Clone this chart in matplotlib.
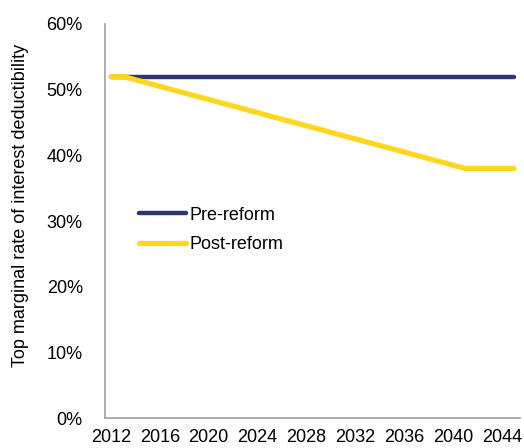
import matplotlib.pyplot as plt

plt.rcParams['font.family'] = ['Liberation Sans', 'DejaVu Sans']

years = list(range(2012, 2046))
pre_reform = [52.0] * 34
post_reform = [52.0, 52.0, 51.5, 51.0, 50.5, 50.0, 49.5, 49.0, 48.5, 48.0,
               47.5, 47.0, 46.5, 46.0, 45.5, 45.0, 44.5, 44.0, 43.5, 43.0,
               42.5, 42.0, 41.5, 41.0, 40.5, 40.0, 39.5, 39.0, 38.5, 38.0,
               38.0, 38.0, 38.0, 38.0]
xtick_years = [2012, 2016, 2020, 2024, 2028, 2032, 2036, 2040, 2044]
ytick_vals = [0, 10, 20, 30, 40, 50, 60]

fs = 13
fig = plt.figure(figsize=(5.24, 4.48), dpi=100)
ax = fig.add_axes([105 / 524, 30 / 448, 415 / 524, 394 / 448])

ax.plot(years, pre_reform, color='#2E3670', lw=3.2, solid_capstyle='round', label='Pre-reform')
ax.plot(years, post_reform, color='#FFD620', lw=3.8, solid_capstyle='round', label='Post-reform')

ax.set_xlim(2011.5, 2045.5)
ax.set_ylim(0, 60)
ax.set_xticks(xtick_years)
ax.set_xticklabels([str(y) for y in xtick_years], fontsize=fs)
ax.set_yticks(ytick_vals)
ax.set_yticklabels(['%d%%' % v for v in ytick_vals], fontsize=fs)
ax.tick_params(axis='x', length=0, pad=8)
ax.tick_params(axis='y', length=0, pad=16)
ax.set_ylabel('Top marginal rate of interest deductibility', fontsize=fs)
ax.yaxis.set_label_coords(-0.182, 0.54)

for s in ['top', 'right']:
    ax.spines[s].set_visible(False)
for s in ['left', 'bottom']:
    ax.spines[s].set_color('#A0A0A0')
    ax.spines[s].set_linewidth(1.2)

ax.legend(loc='upper left', bbox_to_anchor=(0.065, 0.555), frameon=False,
          fontsize=fs, handlelength=2.6, handletextpad=0.2, labelspacing=0.7,
          borderaxespad=0)

fig.savefig('out.png', dpi=100)
